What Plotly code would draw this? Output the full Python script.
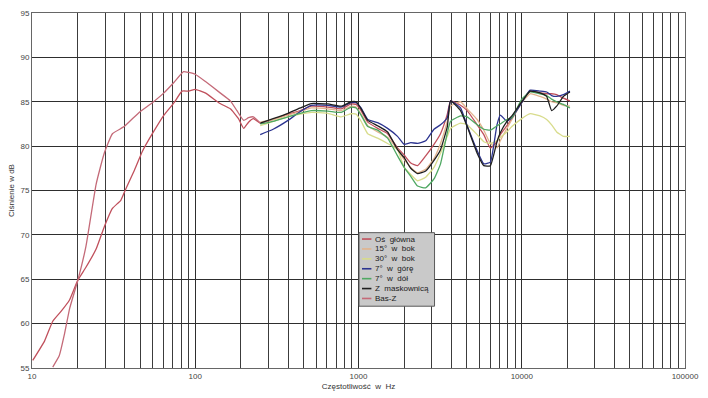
import plotly.graph_objects as go

# ---- data ----
# bass part of the main-axis curve
os_bass_f = [10.1, 11.95, 13.4, 15.1, 16.97, 19.06, 21.4, 24.7, 27.7, 31.1, 35.0, 37.6, 42.2, 47.4,
             54.6, 64.3, 74.2, 83.0, 91.2, 100, 115, 142, 164, 184, 198, 212, 227]
os_bass_db = [55.85, 58.06, 60.27, 61.4, 62.66, 64.87, 66.35, 68.4, 70.9, 72.98, 73.9, 75.2, 77.2, 79.4,
              81.4, 83.5, 84.9, 86.2, 86.2, 86.4, 86.0, 84.8, 84.2, 83.1, 82.0, 82.7, 83.1]

# mid/high frequency grid shared by the directivity curves
mid_f = [250, 300, 370, 440, 514, 650, 783, 902, 967, 1037,
         1139, 1310, 1507, 1734, 1904, 2090, 2300, 2580, 2900, 3180,
         3500, 3665, 4217, 4632, 5330, 5854, 6424, 7050, 7388, 8110,
         8700, 10000, 11250, 12940, 14210, 15240, 16360, 17980, 19730]

os_mid_db = [82.6, 83.0, 83.6, 84.0, 84.5, 84.4, 84.2, 84.75, 84.7, 84.0,
             82.7, 82.0, 81.4, 79.8, 79.0, 78.1, 77.8, 78.9, 80.2, 81.4,
             83.6, 85.1, 84.6, 84.0, 82.4, 81.3, 79.8, 80.5, 81.3, 82.3,
             83.1, 85.0, 86.2, 86.0, 85.9, 85.9, 85.8, 85.4, 85.1]

deg15_db = [82.7, 83.0, 83.5, 83.9, 84.3, 84.2, 84.0, 84.5, 84.4, 83.6,
            82.3, 81.6, 81.0, 79.6, 78.5, 77.6, 77.0, 77.4, 78.6, 80.3,
            82.8, 84.5, 85.0, 84.2, 83.0, 81.8, 80.3, 79.8, 80.6, 82.0,
            83.0, 84.9, 85.9, 85.6, 85.3, 85.0, 84.9, 84.6, 84.5]

deg30_db = [82.3, 82.8, 83.3, 83.6, 83.8, 83.7, 83.3, 83.65, 83.6, 82.8,
            81.4, 80.9, 80.3, 79.6, 77.6, 76.8, 76.1, 76.5, 77.6, 79.2,
            81.1, 82.0, 82.6, 82.4, 81.3, 80.5, 80.3, 80.6, 81.0, 81.6,
            82.2, 83.1, 83.65, 83.4, 83.0, 82.4, 81.6, 81.1, 81.1]

up7_db = [81.3, 81.9, 82.9, 83.9, 84.6, 84.6, 84.4, 84.9, 84.9, 84.3,
          83.0, 82.65, 82.0, 81.1, 80.2, 80.4, 80.3, 80.6, 81.9, 82.4,
          83.2, 85.1, 84.3, 82.3, 79.5, 78.0, 78.2, 82.4, 83.5, 82.8,
          83.2, 84.9, 86.3, 86.2, 86.1, 85.7, 85.6, 85.8, 86.2]

down7_db = [82.5, 82.8, 83.3, 83.7, 84.0, 83.95, 83.8, 84.4, 84.3, 83.5,
            82.2, 81.8, 80.9, 78.9, 77.6, 76.6, 75.5, 75.3, 76.3, 78.0,
            81.5, 82.8, 83.4, 83.3, 82.4, 81.9, 81.8, 82.3, 82.5, 83.0,
            83.2, 85.3, 86.1, 85.9, 85.7, 85.3, 85.0, 84.7, 84.3]

grille_db = [82.6, 83.1, 83.7, 84.3, 84.8, 84.75, 84.5, 85.0, 85.0, 84.2,
             82.9, 82.3, 81.6, 79.6, 78.7, 77.5, 76.9, 77.2, 78.4, 79.6,
             82.2, 85.1, 84.0, 82.2, 79.2, 77.8, 77.8, 80.5, 81.5, 82.8,
             83.4, 85.0, 86.2, 86.0, 85.6, 84.0, 84.5, 85.6, 86.1]

basz_f = [13.4, 14.7, 15.8, 17.0, 19.1, 21.4, 24.7, 27.7, 31.1, 36.7, 45.3, 54.6, 64.3, 74.2,
          84.8, 91.2, 100, 115, 142, 164, 180, 198, 212, 227, 250]
basz_db = [55.1, 56.4, 58.8, 61.7, 64.9, 68.7, 75.7, 79.2, 81.4, 82.2, 83.8, 84.9, 86.0, 87.2,
           88.4, 88.3, 88.1, 87.3, 86.0, 85.1, 84.0, 82.9, 83.2, 83.3, 82.6]

x_tick_vals = [10, 100, 1000, 10000, 100000]
x_tick_text = ["10", "100", "1000", "10000", "100000"]
y_tick_vals = [55, 60, 65, 70, 75, 80, 85, 90, 95]

names = ["Oś  główna", "15°  w  bok", "30°  w  bok", "7°  w  górę", "7°  w  dół", "Z  maskownicą", "Bas-Z"]
colors = ["#c0505c", "#e2b48e", "#d8dc8c", "#2c3490", "#4fa862", "#1e1e1e", "#c46a78"]

# minor grid: each decade split into ten equal linear steps (as in the original)
minor_vals = []
for dec in [10, 100, 1000, 10000]:
    for k in range(1, 10):
        minor_vals.append(dec * (1 + 0.9 * k))

fig = go.Figure()
series = [
    (os_bass_f + mid_f, os_bass_db + os_mid_db),
    (mid_f, deg15_db),
    (mid_f, deg30_db),
    (mid_f, up7_db),
    (mid_f, down7_db),
    (mid_f, grille_db),
    (basz_f, basz_db),
]
for (xs, ys), name, col in zip(series, names, colors):
    fig.add_trace(go.Scatter(x=xs, y=ys, mode="lines", name=name, showlegend=False,
                             line=dict(color=col, width=1.3, shape="spline", smoothing=0.4)))

# compact legend box (plotly's own legend rows are too tall for this layout)
PL, PR, PT, PB = 32, 689, 9, 371
def px(x):
    return (x - PL) / (PR - PL)
def py(y):
    return (PB - y) / (PB - PT)

shapes = [dict(type="rect", xref="paper", yref="paper",
               x0=px(361), x1=px(437), y0=py(308), y1=py(233),
               fillcolor="#c9c9c9", line=dict(color="#5a5a5a", width=1), layer="above")]
annotations = []
for i, (name, col) in enumerate(zip(names, colors)):
    yy = 239.5 + i * 10.1
    shapes.append(dict(type="line", xref="paper", yref="paper",
                       x0=px(364), x1=px(373.5), y0=py(yy), y1=py(yy),
                       line=dict(color=col, width=1.6), layer="above"))
    annotations.append(dict(xref="paper", yref="paper", x=px(375), y=py(yy),
                            xanchor="left", yanchor="middle", text=name, showarrow=False,
                            font=dict(size=8, color="#1a1a1a")))

fig.update_layout(
    width=708, height=398,
    margin=dict(l=32, r=19, t=9, b=27),
    paper_bgcolor="white", plot_bgcolor="white",
    font=dict(family="Liberation Sans, Arial, sans-serif", size=8, color="#333"),
    showlegend=False,
    shapes=shapes, annotations=annotations,
)
fig.update_xaxes(
    type="log", range=[1, 5],
    tickvals=x_tick_vals, ticktext=x_tick_text, ticks="",
    showgrid=True, gridcolor="#2e2e2e", gridwidth=1,
    minor=dict(tickvals=minor_vals, showgrid=True, gridcolor="#3c3c3c", gridwidth=1, ticks=""),
    showline=True, linecolor="#666", linewidth=1, mirror=True,
    tickfont=dict(size=8, color="#444"),
    title=dict(text="Częstotliwość  w  Hz", font=dict(size=8, color="#333"), standoff=3),
    zeroline=False,
)
fig.update_yaxes(
    range=[55, 95], tickvals=y_tick_vals, ticks="",
    showgrid=True, gridcolor="#2e2e2e", gridwidth=1,
    showline=True, linecolor="#666", linewidth=1, mirror=True,
    tickfont=dict(size=8, color="#444"),
    title=dict(text="Ciśnienie w dB", font=dict(size=8, color="#333"), standoff=4),
    zeroline=False,
)

fig.write_html("out.html")
